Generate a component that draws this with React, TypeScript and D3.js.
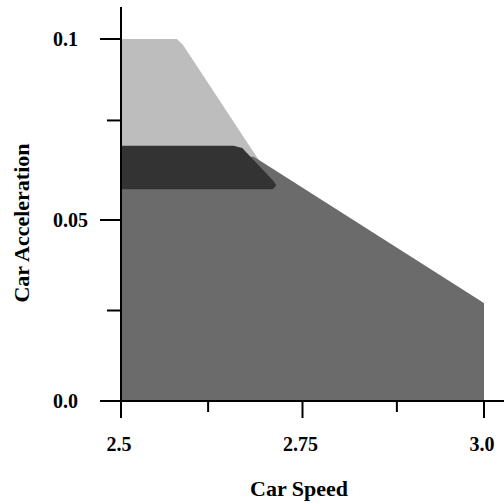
import React from 'react';
import * as d3 from 'd3';

// region outlines, [speed, acceleration]
const lightRegion: [number, number][] = [
  [2.5, 0.1], [2.577, 0.1], [2.585, 0.0985], [2.69, 0.0665], [2.69, 0.06], [2.5, 0.06],
];
const midRegion: [number, number][] = [
  [2.5, 0], [3.0, 0], [3.0, 0.027], [2.995, 0.0277], [2.683, 0.0675], [2.5, 0.0675],
];
const darkRegion: [number, number][] = [
  [2.5, 0.0705], [2.655, 0.0705], [2.667, 0.0699], [2.71, 0.0608], [2.714, 0.0596],
  [2.709, 0.0585], [2.5, 0.0585],
];

const xMajor = [2.5, 2.75, 3.0];
const xMinor = [2.62, 2.88];
const xLabels = ['2.5', '2.75', '3.0'];
const yMajor = [0, 0.05, 0.1];
const yMinor = [0.025, 0.0775];
const yLabels = ['0.0', '0.05', '0.1'];

const W = 504;
const H = 503;
const font = '"Liberation Serif", "Times New Roman", serif';

export default function App() {
  const x = d3.scaleLinear().domain([2.5, 3.0]).range([121, 484]);
  const y = d3.scaleLinear().domain([0, 0.1]).range([401, 39]);
  const area = d3.line<[number, number]>().x(d => x(d[0])).y(d => y(d[1])).curve(d3.curveLinearClosed);

  return (
    <svg width={W} height={H} style={{ position: 'absolute', left: 0, top: 0, background: '#fff' }}
      fontFamily={font} fontWeight="bold">
      <path d={area(lightRegion) || ''} fill="#bdbdbd" />
      <path d={area(midRegion) || ''} fill="#6b6b6b" />
      <path d={area(darkRegion) || ''} fill="#333333" />

      {/* y axis */}
      <line x1={x(2.5)} x2={x(2.5)} y1={7} y2={418} stroke="#000" strokeWidth={2} />
      {yMajor.map(v => (
        <line key={'ym' + v} x1={100} x2={x(2.5)} y1={y(v)} y2={y(v)} stroke="#000" strokeWidth={2} />
      ))}
      {yMinor.map(v => (
        <line key={'yn' + v} x1={107} x2={x(2.5)} y1={y(v)} y2={y(v)} stroke="#000" strokeWidth={2} />
      ))}
      {yMajor.map((v, i) => (
        <text key={'yl' + v} x={53} y={y(v) + 7} fontSize={20}>{yLabels[i]}</text>
      ))}
      <text transform="translate(29,223) rotate(-90)" textAnchor="middle" fontSize={22}>Car Acceleration</text>

      {/* x axis */}
      <line x1={100} x2={W} y1={y(0)} y2={y(0)} stroke="#000" strokeWidth={2} />
      {xMajor.map(v => (
        <line key={'xm' + v} x1={x(v)} x2={x(v)} y1={y(0)} y2={418} stroke="#000" strokeWidth={2} />
      ))}
      {xMinor.map(v => (
        <line key={'xn' + v} x1={x(v)} x2={x(v)} y1={y(0)} y2={412} stroke="#000" strokeWidth={2} />
      ))}
      {xMajor.map((v, i) => (
        <text key={'xl' + v} x={x(v) - 2} y={451} textAnchor="middle" fontSize={20}>{xLabels[i]}</text>
      ))}
      <text x={299} y={496} textAnchor="middle" fontSize={22}>Car Speed</text>
    </svg>
  );
}
